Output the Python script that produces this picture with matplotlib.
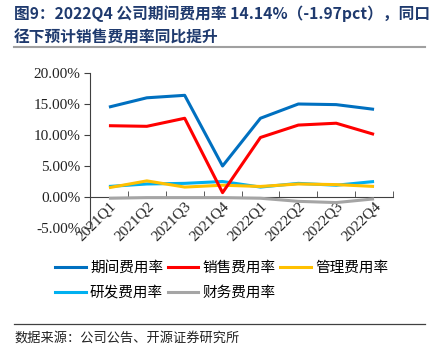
import matplotlib
matplotlib.use("Agg")
import matplotlib.pyplot as plt
from matplotlib.lines import Line2D

categories = ["2021Q1", "2021Q2", "2021Q3", "2021Q4", "2022Q1", "2022Q2", "2022Q3", "2022Q4"]
period = [14.5, 16.0, 16.4, 5.0, 12.7, 15.0, 14.9, 14.14]
sales = [11.5, 11.4, 12.7, 0.7, 9.6, 11.6, 11.9, 10.1]
admin = [1.5, 2.6, 1.6, 1.9, 1.7, 2.1, 2.0, 1.7]
rnd = [1.7, 2.1, 2.2, 2.5, 1.6, 2.2, 1.9, 2.5]
finance = [-0.2, -0.1, -0.1, -0.1, -0.2, -0.7, -0.9, -0.3]
series_names = ["期间费用率", "销售费用率", "管理费用率", "研发费用率", "财务费用率"]
yticks = [-5, 0, 5, 10, 15, 20]

colors = ["#0070C0", "#FF0000", "#FFC000", "#00B0F0", "#A5A5A5"]
cjk = ["Noto Sans CJK SC", "DejaVu Sans"]
serif = ["Liberation Serif", "DejaVu Serif"]

fig = plt.figure(figsize=(4.3, 3.58), dpi=100)
ax = fig.add_axes([90/430, 1-228/358, 303/430, 155/358])

ax.spines['top'].set_visible(False)
ax.spines['right'].set_visible(False)
ax.spines['bottom'].set_position(('data', 0))
ax.spines['bottom'].set_color('#404040')
ax.spines['left'].set_color('#404040')

x = [i + 0.5 for i in range(len(categories))]
data = [period, sales, admin, rnd, finance]
order = [4, 2, 3, 1, 0]
for i in order:
    ax.plot(x, data[i], color=colors[i], lw=2.2, zorder=3 + (4 - i), solid_capstyle='butt')

ax.set_xlim(0, len(categories))
ax.set_ylim(-5, 20)
ax.set_yticks(yticks)
ax.set_yticklabels([f"{v:.2f}%" for v in yticks], fontfamily=serif, fontsize=11, color='#222222')
ax.set_xticks(x)
ax.set_xticklabels(categories, rotation=45, ha='right', rotation_mode='anchor',
                   fontfamily=serif, fontsize=11, color='#222222')
ax.set_xticks(range(1, len(categories) + 1), minor=True)
ax.tick_params(axis='x', which='major', length=0, pad=2)
ax.tick_params(axis='x', which='minor', length=4, direction='in', color='#404040')
ax.tick_params(axis='y', length=4, direction='out', color='#404040', pad=3)

# legend (row-wise order)
handles = [Line2D([0], [0], color=colors[i], lw=2.2) for i in range(5)]
idx = [0, 3, 1, 4, 2]
leg = fig.legend([handles[i] for i in idx], [series_names[i] for i in idx],
                 loc='upper left', bbox_to_anchor=(55/430, 1-261/358),
                 ncol=3, frameon=False, prop={'family': cjk, 'size': 10.5},
                 borderpad=0, borderaxespad=0,
                 handlelength=2.1, handletextpad=0.3, columnspacing=0.3, labelspacing=0.75)

# title
title_color = "#1F3A6E"
fig.text(14/430, 1-14/358, "图9：2022Q4 公司期间费用率 14.14%（-1.97pct），同口",
         fontfamily=cjk, fontsize=11.3, fontweight='bold', color=title_color, va='center', ha='left')
fig.text(14/430, 1-38/358, "径下预计销售费用率同比提升",
         fontfamily=cjk, fontsize=11.3, fontweight='bold', color=title_color, va='center', ha='left')
fig.add_artist(Line2D([14/430, 425/430], [1-47/358, 1-47/358], color='#A0A0A0', lw=1.5))

# footer
fig.add_artist(Line2D([14/430, 425/430], [1-324/358, 1-324/358], color='#404040', lw=0.9))
fig.text(14/430, 1-338/358, "数据来源：公司公告、开源证券研究所",
         fontfamily=cjk, fontsize=9.5, color='#222222', va='center', ha='left')

fig.savefig("out.png", dpi=100)
